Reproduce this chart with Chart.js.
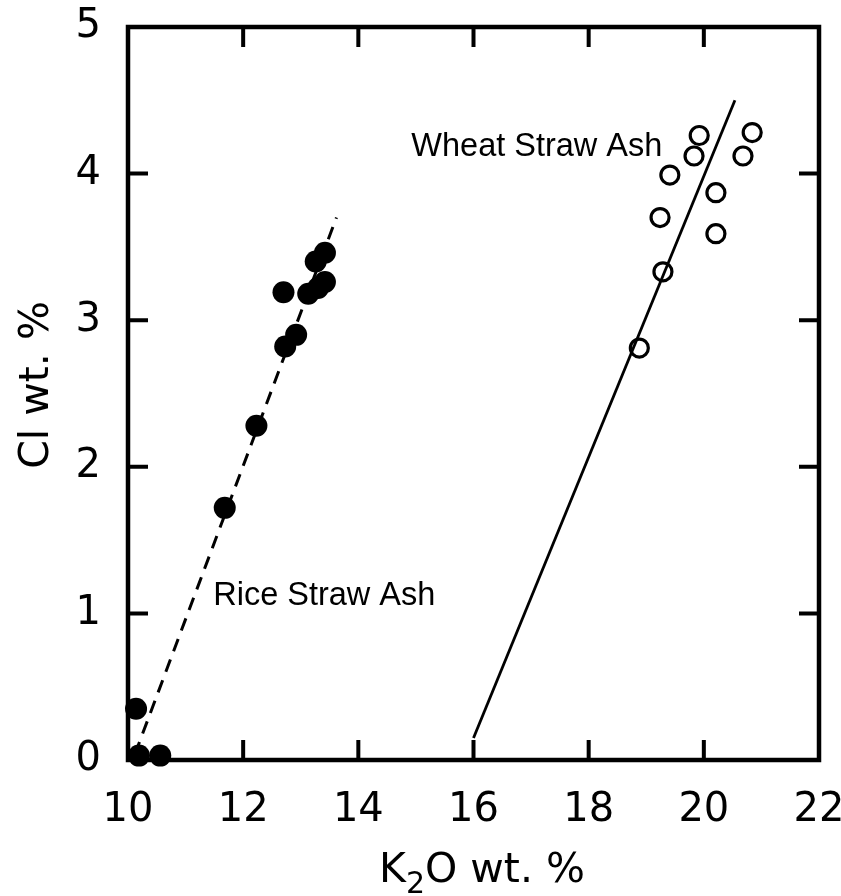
<!DOCTYPE html>
<html>
<head>
<meta charset="utf-8">
<script src="https://cdn.jsdelivr.net/npm/chart.js@4"></script>
<style>
  html, body { margin: 0; padding: 0; background: #fff; }
  canvas { display: block; }
</style>
</head>
<body>
<canvas id="chart" width="841" height="896"></canvas>
<script>
// rice straw ash (filled circles)
const riceK2O = [10.14, 10.19, 10.56, 11.68, 12.23, 12.73, 12.92, 12.70, 13.13, 13.30, 13.26, 13.42, 13.42];
const riceCl = [0.35, 0.03, 0.03, 1.72, 2.28, 2.82, 2.90, 3.19, 3.18, 3.22, 3.40, 3.46, 3.26];

// wheat straw ash (open circles)
const wheatK2O = [18.88, 19.29, 19.24, 20.21, 20.21, 19.41, 19.83, 20.68, 19.92, 20.84];
const wheatCl = [2.81, 3.33, 3.70, 3.59, 3.87, 3.99, 4.12, 4.12, 4.26, 4.28];

// fitted trend lines (end points)
const riceFitK2O = [10.12, 13.62];
const riceFitCl = [0.04, 3.70];
const wheatFitK2O = [16.0, 20.54];
const wheatFitCl = [0.15, 4.50];

const xTicks = [10, 12, 14, 16, 18, 20, 22];
const yTicks = [0, 1, 2, 3, 4, 5];

// series labels, anchored in data units (left edge, baseline)
const seriesLabels = [
  { text: "Wheat Straw Ash", x: 14.92, y: 4.12 },
  { text: "Rice Straw Ash", x: 11.48, y: 1.056 },
];

const TICK_FONT = { family: "DejaVu Sans", size: 40 };
const TICK_LEN = 20;

const toPoints = (xs, ys) => xs.map((x, i) => ({ x, y: ys[i] }));

const framePlugin = {
  id: "frame",
  beforeDatasetsDraw(chart) {
    const { ctx, chartArea, scales } = chart;
    const { left, right, top, bottom } = chartArea;
    ctx.save();
    ctx.strokeStyle = "#000";
    ctx.lineWidth = 4;
    ctx.beginPath();
    xTicks.forEach((v) => {
      const px = scales.x.getPixelForValue(v);
      ctx.moveTo(px, bottom);
      ctx.lineTo(px, bottom - TICK_LEN);
      ctx.moveTo(px, top);
      ctx.lineTo(px, top + TICK_LEN);
    });
    yTicks.forEach((v) => {
      const py = scales.y.getPixelForValue(v);
      ctx.moveTo(left, py);
      ctx.lineTo(left + TICK_LEN, py);
      ctx.moveTo(right, py);
      ctx.lineTo(right - TICK_LEN, py);
    });
    ctx.stroke();
    ctx.lineWidth = 4.5;
    ctx.strokeRect(left, top, right - left, bottom - top);
    ctx.restore();
  },
  afterDraw(chart) {
    const { ctx, scales } = chart;
    ctx.save();
    ctx.fillStyle = "#000";

    // series labels
    ctx.font = "32.5px 'Liberation Sans', Arial, sans-serif";
    ctx.textAlign = "left";
    ctx.textBaseline = "alphabetic";
    seriesLabels.forEach((lab) => {
      ctx.fillText(
        lab.text,
        scales.x.getPixelForValue(lab.x),
        scales.y.getPixelForValue(lab.y),
      );
    });

    // x axis title with subscript
    const bigFont = "41px 'DejaVu Sans'";
    const subFont = "30px 'DejaVu Sans'";
    ctx.font = bigFont;
    const wK = ctx.measureText("K").width;
    const wRest = ctx.measureText("O wt. %").width;
    ctx.font = subFont;
    const w2 = ctx.measureText("2").width;
    const total = wK + w2 + wRest;
    let x = 482 - total / 2;
    const base = 882;
    ctx.font = bigFont;
    ctx.fillText("K", x, base);
    x += wK;
    ctx.font = subFont;
    ctx.fillText("2", x, base + 11);
    x += w2;
    ctx.font = bigFont;
    ctx.fillText("O wt. %", x, base);

    // y axis title
    ctx.translate(48, 385);
    ctx.rotate(-Math.PI / 2);
    ctx.textAlign = "center";
    ctx.fillText("Cl wt. %", 0, 0);
    ctx.restore();
  },
};

new Chart(document.getElementById("chart"), {
  type: "scatter",
  data: {
    datasets: [
      {
        label: "Rice fit",
        data: toPoints(riceFitK2O, riceFitCl),
        showLine: true,
        borderColor: "#000",
        borderWidth: 3,
        borderDash: [13, 9],
        pointRadius: 0,
        clip: false,
      },
      {
        label: "Wheat fit",
        data: toPoints(wheatFitK2O, wheatFitCl),
        showLine: true,
        borderColor: "#000",
        borderWidth: 2.8,
        pointRadius: 0,
        clip: false,
      },
      {
        label: "Rice Straw Ash",
        data: toPoints(riceK2O, riceCl),
        pointRadius: 11,
        pointBackgroundColor: "#000",
        pointBorderColor: "#000",
        pointBorderWidth: 0,
        clip: false,
      },
      {
        label: "Wheat Straw Ash",
        data: toPoints(wheatK2O, wheatCl),
        pointRadius: 9,
        pointBackgroundColor: "rgba(0,0,0,0)",
        pointBorderColor: "#000",
        pointBorderWidth: 3.2,
        clip: false,
      },
    ],
  },
  options: {
    responsive: false,
    animation: false,
    events: [],
    layout: { padding: { top: 27, right: 22, bottom: 0, left: 0 } },
    plugins: {
      legend: { display: false },
      tooltip: { enabled: false },
    },
    scales: {
      x: {
        type: "linear",
        min: 10,
        max: 22,
        afterBuildTicks: (axis) => {
          axis.ticks = xTicks.map((value) => ({ value }));
        },
        afterFit: (axis) => {
          axis.height = 136;
          axis.paddingLeft = 0;
          axis.paddingRight = 0;
        },
        grid: { display: false, drawTicks: false },
        border: { display: false },
        ticks: { color: "#000", font: TICK_FONT, padding: 27, maxRotation: 0 },
      },
      y: {
        type: "linear",
        min: 0,
        max: 5,
        afterBuildTicks: (axis) => {
          axis.ticks = yTicks.map((value) => ({ value }));
        },
        afterFit: (axis) => {
          axis.width = 128;
          axis.paddingTop = 0;
          axis.paddingBottom = 0;
        },
        grid: { display: false, drawTicks: false },
        border: { display: false },
        ticks: { color: "#000", font: TICK_FONT, padding: 27 },
      },
    },
  },
  plugins: [framePlugin],
});
</script>
</body>
</html>
